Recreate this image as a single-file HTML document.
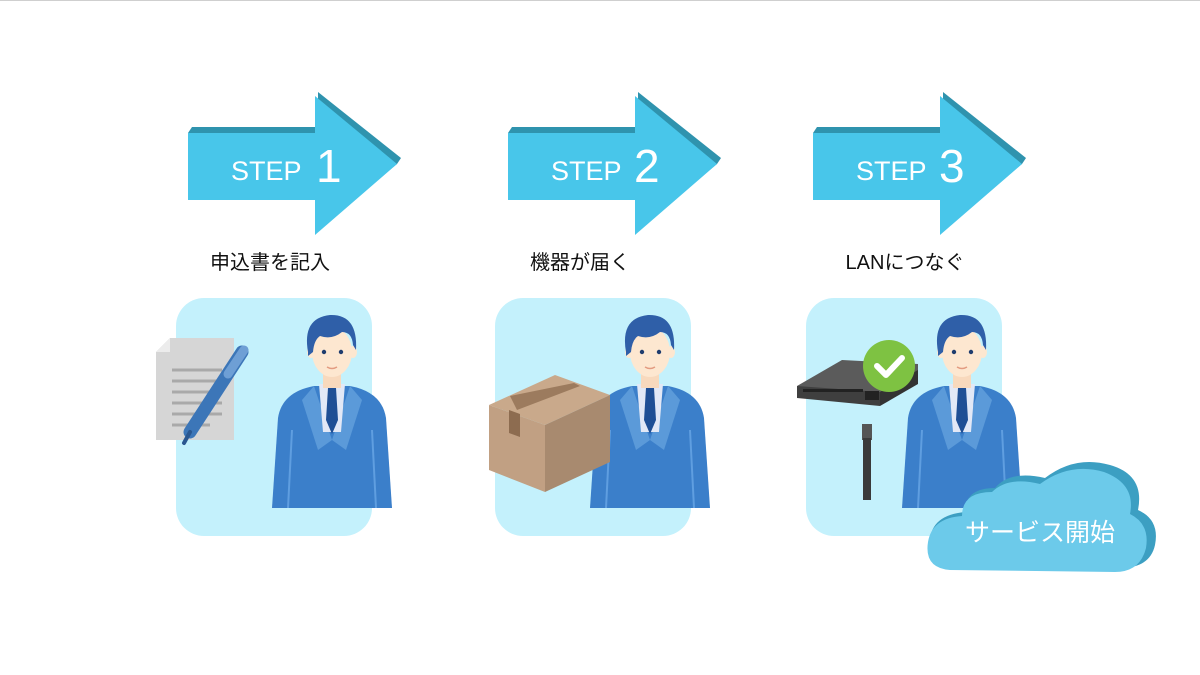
<!DOCTYPE html>
<html><head><meta charset="utf-8"><style>
html,body{margin:0;padding:0;background:#fff;}
svg{display:block;}
text{font-family:"Liberation Sans","Noto Sans CJK JP",sans-serif;}
</style></head><body>
<svg width="1200" height="675" viewBox="0 0 1200 675" xmlns="http://www.w3.org/2000/svg">
<defs>
<g id="arrow">
  <polygon points="192,127 318,127 318,92 401,158 397,164 318,228 318,200 188,200 188,133" fill="#2f93ae"/>
  <polygon points="188,133 315,133 315,96 397,164 315,235 315,200 188,200" fill="#48c6ea"/>
</g>
<g id="person">
  <path d="M-60 508 L-54 418 Q-50 392 -18 386 L18 386 Q50 392 54 418 L60 508 Z" fill="#3b7fca"/>
  <path d="M-18 386 L-30 400 L-14 450 L0 440 Z" fill="#5b9ad9"/>
  <path d="M18 386 L30 400 L14 450 L0 440 Z" fill="#5b9ad9"/>
  <line x1="-40" y1="430" x2="-44" y2="508" stroke="#5f9ee0" stroke-width="2"/>
  <line x1="40" y1="430" x2="44" y2="508" stroke="#5f9ee0" stroke-width="2"/>
  <polygon points="-13,384 13,384 9,432 -9,432" fill="#e2e8f6"/>
  <polygon points="-4,388 4,388 6,420 0,434 -6,420" fill="#1f4f95"/>
  <rect x="-9" y="366" width="18" height="22" fill="#f8d9bd"/>
  <ellipse cx="0" cy="352" rx="20" ry="25" fill="#fde7d0"/>
  <ellipse cx="-21" cy="352" rx="4" ry="6" fill="#fde7d0"/>
  <ellipse cx="21" cy="352" rx="4" ry="6" fill="#fde7d0"/>
  <path d="M-24 352 Q-30 318 -2 315 Q26 314 24 350 L21 345 Q20 332 10 332 Q0 340 -12 336 Q-18 340 -19 352 L-24 356 Z" fill="#2f5fa8"/>
  <circle cx="-8" cy="352" r="2.2" fill="#1e3c6e"/>
  <circle cx="9" cy="352" r="2.2" fill="#1e3c6e"/>
  <path d="M-5 367 Q0 370 5 367" stroke="#e39b80" stroke-width="1.5" fill="none"/>
</g>
</defs>
<line x1="0" y1="0.5" x2="1200" y2="0.5" stroke="#cfcfcf"/>

<use href="#arrow"/>
<use href="#arrow" transform="translate(320,0)"/>
<use href="#arrow" transform="translate(625,0)"/>
<g fill="#fff">
<text x="231" y="180" font-size="27">STEP</text><text x="316" y="182" font-size="46">1</text>
<text x="551" y="180" font-size="27">STEP</text><text x="634" y="182" font-size="46">2</text>
<text x="856" y="180" font-size="27">STEP</text><text x="939" y="182" font-size="46">3</text>
</g>
<g fill="#111" font-size="20" text-anchor="middle">
<text x="270" y="269">申込書を記入</text>
<text x="580" y="269">機器が届く</text>
<text x="905" y="269">LANにつなぐ</text>
</g>

<rect x="176" y="298" width="196" height="238" rx="28" fill="#c4f1fc"/>
<rect x="495" y="298" width="196" height="238" rx="28" fill="#c4f1fc"/>
<rect x="806" y="298" width="196" height="238" rx="28" fill="#c4f1fc"/>

<!-- doc + pen -->
<polygon points="170,338 234,338 234,440 156,440 156,352" fill="#d6d6d6"/>
<polygon points="156,352 170,338 170,352" fill="#ececec"/>
<g stroke="#a9a9a9" stroke-width="3">
<line x1="172" y1="370" x2="222" y2="370"/><line x1="172" y1="381" x2="222" y2="381"/>
<line x1="172" y1="392" x2="222" y2="392"/><line x1="172" y1="403" x2="222" y2="403"/>
<line x1="172" y1="414" x2="222" y2="414"/><line x1="172" y1="425" x2="210" y2="425"/>
</g>
<line x1="242" y1="352" x2="190" y2="432" stroke="#3c76b8" stroke-width="13" stroke-linecap="round"/>
<line x1="244" y1="350" x2="228" y2="374" stroke="#6e9fd5" stroke-width="9" stroke-linecap="round"/>
<line x1="190" y1="432" x2="184" y2="443" stroke="#2a5790" stroke-width="4" stroke-linecap="round"/>

<use href="#person" transform="translate(332,0)"/>

<!-- box -->
<use href="#person" transform="translate(650,0)"/>
<polygon points="489,405 555,375 610,395 545,425" fill="#c9a98b"/>
<polygon points="489,405 545,425 545,492 489,470" fill="#c1a083"/>
<polygon points="545,425 610,395 610,462 545,492" fill="#a88a6f"/>
<polygon points="510,396 574,383 580,386 517,410" fill="#9c7b5e"/>
<polygon points="509,410 520,414 520,437 509,433" fill="#8d6c50"/>

<!-- switch -->
<use href="#person" transform="translate(962,0)"/>
<polygon points="797,386 842,360 918,364 918,378 880,404 797,396" fill="#5b5b5b"/>
<polygon points="797,386 880,392 880,406 797,398" fill="#3f3f3f"/>
<polygon points="880,392 918,370 918,384 880,406" fill="#333"/>
<g fill="#222"><rect x="803" y="389" width="60" height="3"/><rect x="865" y="391" width="14" height="9"/></g>
<circle cx="889" cy="366" r="26" fill="#7ec242"/>
<path d="M877 366 L886 375 L902 358" stroke="#fff" stroke-width="6" fill="none" stroke-linecap="round" stroke-linejoin="round"/>
<rect x="862" y="424" width="10" height="16" fill="#555"/>
<rect x="863" y="438" width="8" height="62" fill="#3a3a3a"/>

<!-- cloud -->
<path d="M950 565 Q925 565 930 540 Q932 515 965 512 Q965 488 995 488 Q1010 470 1045 478 Q1075 455 1110 465 Q1145 475 1138 510 Q1160 520 1155 545 Q1150 568 1120 568 Z" fill="#3c9fc2"/>
<path d="M950 570 Q924 568 928 542 Q932 518 962 516 Q962 492 992 492 Q1008 476 1040 484 Q1070 462 1104 472 Q1136 484 1130 514 Q1150 524 1146 548 Q1140 572 1115 572 Z" fill="#6ccaea"/>
<text x="1040" y="541" font-size="25" fill="#fff" text-anchor="middle">サービス開始</text>
</svg>
</body></html>
